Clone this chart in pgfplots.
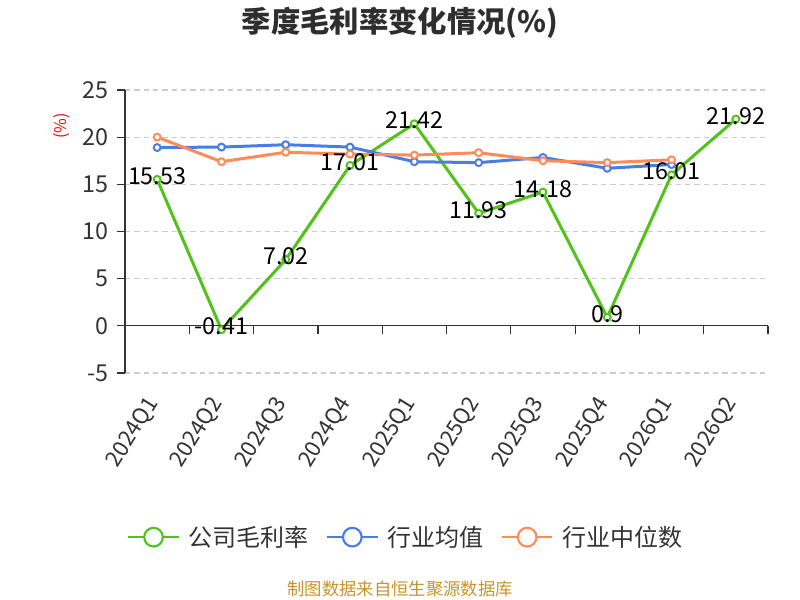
\documentclass[border=0pt]{standalone}
\usepackage{fontspec}
\setmainfont{Noto Sans CJK SC}
\usepackage{pgfplots}
\pgfplotsset{compat=1.18}
\definecolor{cgreen}{RGB}{82,194,26}
\definecolor{cblue}{RGB}{74,125,227}
\definecolor{corange}{RGB}{255,138,90}
\definecolor{ctext}{RGB}{51,51,51}
\definecolor{cgrid}{RGB}{204,204,204}
\definecolor{cgold}{RGB}{200,147,45}
\begin{document}
\begin{tikzpicture}[x=0.75pt,y=0.75pt]
\path[use as bounding box] (0,0) rectangle (800,600);
\begin{axis}[
  at={(93.75pt,170.25pt)}, anchor=south west,
  scale only axis, width=482.25pt, height=212.25pt,
  xmin=-0.5, xmax=9.5, ymin=-5, ymax=25,
  clip=false,
  ytick={-5,0,5,10,15,20,25},
  xtick={0,...,9},
  xticklabels={2024Q1,2024Q2,2024Q3,2024Q4,2025Q1,2025Q2,2025Q3,2025Q4,2026Q1,2026Q2},
  axis line style={draw=none},
  xtick style={draw=none},
  ytick style={draw=ctext, line width=0.9pt},
  tick align=outside, major tick length=6pt,
  ytick pos=left, xtick pos=bottom,
  ymajorgrids, grid style={cgrid, line width=0.9pt, dash pattern=on 4pt off 3pt},
  /pgf/number format/assume math mode=true,
  yticklabel style={font=\fontsize{17.5}{19}\selectfont, text=ctext, xshift=-3pt},
  xticklabel style={font=\fontsize{16.5}{18}\selectfont, text=ctext, xshift=-1pt, yshift=-11pt, rotate=58, anchor=east},
  legend columns=3,
  legend style={at={(0.437,-0.58)}, anchor=center, draw=none, fill=none,
    font=\fontsize{18}{20}\selectfont, text=ctext,
    /tikz/every odd column/.append style={column sep=4.5pt},
    /tikz/every even column/.append style={column sep=11pt}},
  legend cell align=left,
]
\addplot[cgreen, line width=2.25pt, mark=*, mark size=2.6pt, mark options={fill=white, line width=1.5pt},
  legend image code/.code={\draw[cgreen,line width=1.6pt] (0pt,0pt) -- (38pt,0pt); \draw[cgreen,line width=1.6pt,fill=white] (19pt,0pt) circle (7pt);}]
  coordinates {(0,15.53) (1,-0.41) (2,7.02) (3,17.01) (4,21.42) (5,11.93) (6,14.18) (7,0.9) (8,16.01) (9,21.92)};
\addlegendentry{公司毛利率}
\addplot[cblue, line width=2.25pt, mark=*, mark size=2.6pt, mark options={fill=white, line width=1.5pt},
  legend image code/.code={\draw[cblue,line width=1.6pt] (0pt,0pt) -- (38pt,0pt); \draw[cblue,line width=1.6pt,fill=white] (19pt,0pt) circle (7pt);}]
  coordinates {(0,18.9) (1,18.95) (2,19.2) (3,18.95) (4,17.4) (5,17.3) (6,17.85) (7,16.7) (8,17.1)};
\addlegendentry{行业均值}
\addplot[corange, line width=2.25pt, mark=*, mark size=2.6pt, mark options={fill=white, line width=1.5pt},
  legend image code/.code={\draw[corange,line width=1.6pt] (0pt,0pt) -- (38pt,0pt); \draw[corange,line width=1.6pt,fill=white] (19pt,0pt) circle (7pt);}]
  coordinates {(0,20.0) (1,17.4) (2,18.4) (3,18.2) (4,18.1) (5,18.35) (6,17.5) (7,17.3) (8,17.6)};
\addlegendentry{行业中位数}
\addplot[draw=none, mark=none, forget plot, nodes near coords, point meta=explicit symbolic,
  nodes near coords align={center},
  every node near coord/.append style={anchor=center, yshift=2.5pt, text=black, font=\fontsize{17.5}{19}\selectfont, inner sep=0pt}]
  coordinates {(0,15.53) [15.53] (1,-0.41) [-0.41] (2,7.02) [7.02] (3,17.01) [17.01] (4,21.42) [21.42] (5,11.93) [11.93] (6,14.18) [14.18] (7,0.9) [0.9] (8,16.01) [16.01] (9,21.92) [21.92]};
\draw[ctext, line width=0.9pt] (axis cs:-0.5,-5) -- (axis cs:-0.5,25);
\draw[ctext, line width=0.9pt] (axis cs:-0.5,0) -- (axis cs:9.5,0);
\draw[ctext, line width=0.9pt] (axis cs:0.5,0) -- ++(0pt,-6pt) (axis cs:1.5,0) -- ++(0pt,-6pt)
  (axis cs:2.5,0) -- ++(0pt,-6pt) (axis cs:3.5,0) -- ++(0pt,-6pt) (axis cs:4.5,0) -- ++(0pt,-6pt)
  (axis cs:5.5,0) -- ++(0pt,-6pt) (axis cs:6.5,0) -- ++(0pt,-6pt) (axis cs:7.5,0) -- ++(0pt,-6pt)
  (axis cs:8.5,0) -- ++(0pt,-6pt) (axis cs:9.5,0) -- ++(0pt,-6pt);
\end{axis}
\node[font=\bfseries\fontsize{22}{25}\selectfont, text=ctext!90!black] at (400,577) {季度毛利率变化情况(\%)};
\node[rotate=90, text=red, font=\fontsize{12}{14}\selectfont] at (62,474) {(\%)};
\node[text=cgold, font=\fontsize{13}{15}\selectfont] at (400,11) {制图数据来自恒生聚源数据库};
\end{tikzpicture}
\end{document}
